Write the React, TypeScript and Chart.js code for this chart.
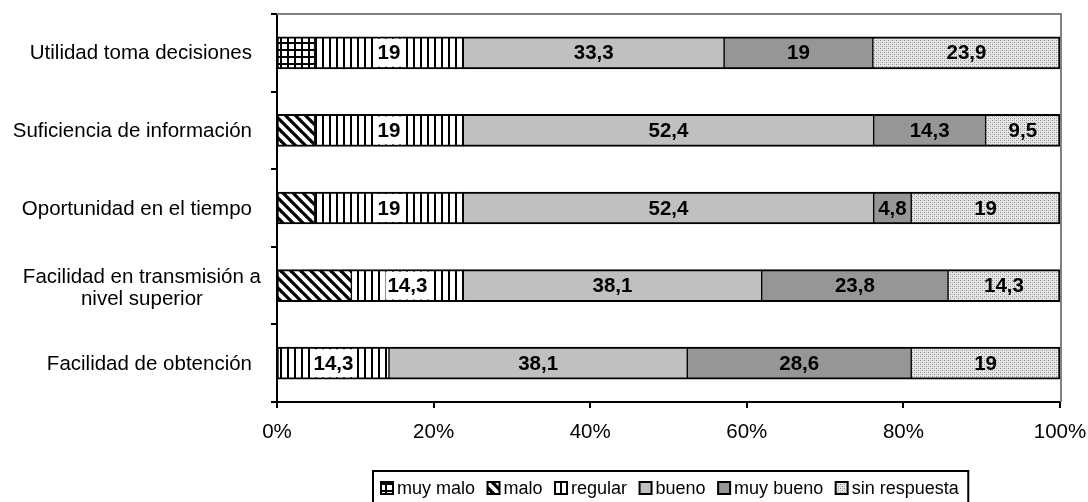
import React, { useEffect, useRef } from 'react';
import { Chart, registerables } from 'chart.js';

Chart.register(...registerables);

// Survey ratings per aspect (percent of respondents)
const categories: (string | string[])[] = [
  'Utilidad toma decisiones',
  'Suficiencia de información',
  'Oportunidad en el tiempo',
  ['Facilidad en transmisión a', 'nivel superior'],
  'Facilidad de obtención',
];
const muyMalo = [4.8, 0, 0, 0, 0];
const malo = [0, 4.8, 4.8, 9.5, 0];
const regular = [19, 19, 19, 14.3, 14.3];
const bueno = [33.3, 52.4, 52.4, 38.1, 38.1];
const muyBueno = [19, 14.3, 4.8, 23.8, 28.6];
const sinRespuesta = [23.9, 9.5, 19, 14.3, 19];
const seriesNames = ['muy malo', 'malo', 'regular', 'bueno', 'muy bueno', 'sin respuesta'];
const xTicks = [0, 20, 40, 60, 80, 100];

const FONT = "Arial, 'Liberation Sans', sans-serif";

type Fill = CanvasPattern | string;

function tile(size: number, paint: (g: CanvasRenderingContext2D) => void): Fill {
  const c = document.createElement('canvas');
  c.width = size;
  c.height = size;
  const g = c.getContext('2d')!;
  g.fillStyle = '#fff';
  g.fillRect(0, 0, size, size);
  paint(g);
  return g.createPattern(c, 'repeat') || '#fff';
}

function makeFills(): Fill[] {
  const grid = tile(7, (g) => {
    g.fillStyle = '#000';
    g.fillRect(0, 0, 7, 2);
    g.fillRect(0, 0, 2, 7);
  });
  const diagonal = tile(10, (g) => {
    g.strokeStyle = '#000';
    g.lineWidth = 3.2;
    for (const x0 of [-10, 0, 10]) {
      g.beginPath();
      g.moveTo(x0 - 1, -1);
      g.lineTo(x0 + 11, 11);
      g.stroke();
    }
  });
  const vertical = tile(7, (g) => {
    g.fillStyle = '#000';
    g.fillRect(0, 0, 2, 7);
  });
  const dotted = tile(4, (g) => {
    g.fillStyle = '#e6e6e6';
    g.fillRect(0, 0, 4, 4);
    g.fillStyle = '#8c8c8c';
    g.fillRect(0, 0, 1, 1);
    g.fillRect(2, 2, 1, 1);
    g.fillStyle = '#c4c4c4';
    g.fillRect(2, 0, 1, 1);
    g.fillRect(0, 2, 1, 1);
  });
  return [grid, diagonal, vertical, '#c0c0c0', '#969696', dotted];
}

const fmt = (v: number) => String(v).replace('.', ',');

// Frame: grey top and right edges of the plot area
const framePlugin = {
  id: 'plotFrame',
  beforeDatasetsDraw(chart: any) {
    const { ctx, chartArea: a } = chart;
    ctx.save();
    ctx.strokeStyle = '#808080';
    ctx.lineWidth = 2;
    ctx.beginPath();
    ctx.moveTo(a.left, a.top);
    ctx.lineTo(a.right + 1, a.top);
    ctx.lineTo(a.right + 1, a.bottom);
    ctx.stroke();
    ctx.restore();
  },
};

// Values written in the middle of each segment (regular, bueno, muy bueno, sin respuesta)
const valueLabelPlugin = {
  id: 'valueLabels',
  afterDatasetsDraw(chart: any) {
    const { ctx } = chart;
    ctx.save();
    ctx.font = `bold 20.5px ${FONT}`;
    ctx.textAlign = 'center';
    ctx.textBaseline = 'middle';
    [2, 3, 4, 5].forEach((di) => {
      const meta = chart.getDatasetMeta(di);
      const values = chart.data.datasets[di].data as number[];
      meta.data.forEach((el: any, i: number) => {
        const v = values[i];
        if (!v) return;
        const text = fmt(v);
        const cx = (el.x + el.base) / 2;
        const cy = el.y;
        if (di === 2) {
          const w = ctx.measureText(text).width;
          ctx.fillStyle = '#fff';
          ctx.fillRect(cx - w / 2 - 2, cy - el.height / 2 + 2, w + 4, el.height - 4);
        }
        ctx.fillStyle = '#000';
        ctx.fillText(text, cx, cy + 1);
      });
    });
    ctx.restore();
  },
};

// Category names to the left of the axis; wrapped names are centred line by line
const categoryLabelPlugin = {
  id: 'categoryLabels',
  afterDraw(chart: any) {
    const { ctx, chartArea } = chart;
    const yScale = chart.scales.y;
    ctx.save();
    ctx.font = `20.5px ${FONT}`;
    ctx.fillStyle = '#000';
    ctx.textAlign = 'center';
    ctx.textBaseline = 'middle';
    (chart.data.labels as (string | string[])[]).forEach((lab, i) => {
      const lines = Array.isArray(lab) ? lab : [lab];
      const maxW = Math.max(...lines.map((l) => ctx.measureText(l).width));
      const right = chartArea.left - 25 + (lines.length > 1 ? 9 : 0);
      const cx = right - maxW / 2;
      const cy = yScale.getPixelForValue(i);
      const lh = 22;
      lines.forEach((l, k) => {
        const dy = (k - (lines.length - 1) / 2) * lh + (lines.length > 1 ? 2 : 0);
        ctx.fillText(l, cx, cy + dy + 1);
      });
    });
    ctx.restore();
  },
};

// Boxed legend under the axis
const boxLegendPlugin = {
  id: 'boxLegend',
  afterDraw(chart: any) {
    const { ctx } = chart;
    const left = 373;
    const top = 471;
    ctx.save();
    ctx.font = `18px ${FONT}`;
    ctx.textBaseline = 'middle';
    ctx.textAlign = 'left';
    let x = left + 8;
    const sy = 482;
    chart.data.datasets.forEach((ds: any) => {
      ctx.fillStyle = ds.backgroundColor;
      ctx.fillRect(x, sy, 12, 12);
      ctx.strokeStyle = '#000';
      ctx.lineWidth = 2;
      ctx.strokeRect(x, sy, 12, 12);
      ctx.fillStyle = '#000';
      const tx = x + 16;
      ctx.fillText(ds.label, tx, sy + 7);
      x = tx + ctx.measureText(ds.label).width + 12.5;
    });
    ctx.strokeStyle = '#000';
    ctx.lineWidth = 2;
    ctx.strokeRect(left, top, x - left - 3, 40);
    ctx.restore();
  },
};

export default function App() {
  const ref = useRef<HTMLCanvasElement | null>(null);

  useEffect(() => {
    if (!ref.current) return;
    const fills = makeFills();
    const seriesValues = [muyMalo, malo, regular, bueno, muyBueno, sinRespuesta];
    const last = seriesValues.length - 1;
    const chart = new Chart(ref.current, {
      type: 'bar',
      data: {
        labels: categories as any,
        datasets: seriesValues.map((vals, di) => ({
          label: seriesNames[di],
          data: vals,
          backgroundColor: fills[di] as any,
          borderColor: '#000',
          borderWidth: { top: 2, bottom: 2, left: 1, right: di === last ? 2 : 1 },
          borderSkipped: false,
          barThickness: 32,
        })),
      },
      options: {
        indexAxis: 'y',
        animation: false,
        responsive: false,
        events: [],
        layout: { padding: { top: 14, right: 28, bottom: 54, left: 0 } },
        scales: {
          x: {
            stacked: true,
            min: 0,
            max: 100,
            afterBuildTicks: (s: any) => {
              s.ticks = xTicks.map((v) => ({ value: v }));
            },
            afterFit: (s: any) => {
              s.height = 46;
              s.paddingLeft = 0;
              s.paddingRight = 0;
            },
            ticks: {
              callback: (v: any) => `${v}%`,
              font: { family: FONT, size: 20.5 },
              color: '#000',
              padding: 12,
              maxRotation: 0,
              autoSkip: false,
            },
            grid: { drawOnChartArea: false, drawTicks: true, tickLength: 6, color: '#000', lineWidth: 2 },
            border: { color: '#000', width: 2 },
          },
          y: {
            stacked: true,
            ticks: { display: false },
            afterFit: (s: any) => {
              s.width = 277;
            },
            grid: { drawOnChartArea: false, drawTicks: true, tickLength: 6, color: '#000', lineWidth: 2, offset: true },
            border: { color: '#000', width: 2 },
          },
        },
        plugins: {
          legend: { display: false },
          tooltip: { enabled: false },
        },
      },
      plugins: [framePlugin, valueLabelPlugin, categoryLabelPlugin, boxLegendPlugin],
    });
    return () => chart.destroy();
  }, []);

  return (
    <div style={{ position: 'fixed', left: 0, top: 0, width: 1088, height: 502, background: '#fff' }}>
      <canvas ref={ref} width={1088} height={502} style={{ display: 'block' }} />
    </div>
  );
}
